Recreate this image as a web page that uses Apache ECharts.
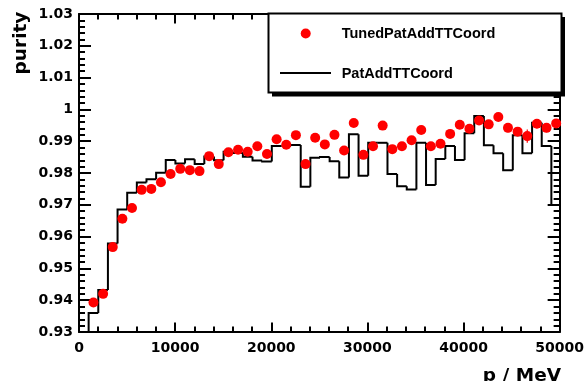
<!DOCTYPE html>
<html><head><meta charset="utf-8">
<script src="https://cdn.jsdelivr.net/npm/echarts@6/dist/echarts.min.js"></script>
<style>html,body{margin:0;padding:0;background:#fff}#c{width:587px;height:381px}</style>
</head><body><div id="c"></div>
<script>
// bin centres (p / MeV), bin width 1000
const binCenters = [1500,2500,3500,4500,5500,6500,7500,8500,9500,10500,
  11500,12500,13500,14500,15500,16500,17500,18500,19500,20500,
  21500,22500,23500,24500,25500,26500,27500,28500,29500,30500,
  31500,32500,33500,34500,35500,36500,37500,38500,39500,40500,
  41500,42500,43500,44500,45500,46500,47500,48500,49500];
const binWidth = 1000;
// TunedPatAddTTCoord (markers)
const tunedPurity = [0.9393,0.9420,0.9567,0.9656,0.9690,0.9747,0.9750,0.9771,0.9797,0.9813,
  0.9809,0.9806,0.9853,0.9828,0.9865,0.9873,0.9867,0.9884,0.9860,0.9906,
  0.9889,0.9919,0.9828,0.9911,0.9890,0.9920,0.9871,0.9957,0.9857,0.9884,
  0.9949,0.9875,0.9884,0.9903,0.9935,0.9884,0.9892,0.9923,0.9952,0.9939,
  0.9965,0.9953,0.9976,0.9942,0.9930,0.9916,0.9955,0.9942,0.9956];
const tunedError = [0.0012,0.0012,0.0011,0.0010,0.0010,0.0009,0.0009,0.0009,0.0009,0.0009,
  0.0009,0.0009,0.0009,0.0009,0.0009,0.0009,0.0010,0.0010,0.0010,0.0010,
  0.0010,0.0010,0.0011,0.0011,0.0011,0.0011,0.0011,0.0011,0.0012,0.0012,
  0.0012,0.0012,0.0012,0.0012,0.0012,0.0013,0.0013,0.0013,0.0013,0.0013,
  0.0013,0.0013,0.0013,0.0014,0.0014,0.0021,0.0014,0.0014,0.0014];
// PatAddTTCoord (histogram)
const patPurity = [0.9360,0.9432,0.9578,0.9685,0.9738,0.9770,0.9780,0.9801,0.9841,0.9830,
  0.9843,0.9828,0.9852,0.9840,0.9867,0.9863,0.9851,0.9839,0.9836,0.9885,
  0.9885,0.9888,0.9757,0.9848,0.9850,0.9837,0.9786,0.9922,0.9791,0.9895,
  0.9895,0.9797,0.9758,0.9748,0.9895,0.9762,0.9844,0.9885,0.9841,0.9925,
  0.9979,0.9887,0.9862,0.9809,0.9919,0.9862,0.9958,0.9885,0.9699];
const seriesNames = ['TunedPatAddTTCoord', 'PatAddTTCoord'];
const xTitle = 'p / MeV';
const yTitle = 'purity';
const xRange = [0, 50000, 10000];
const yRange = [0.93, 1.03, 0.01];

// histogram bins: [low edge, high edge, value, previous value]
const histData = binCenters.map((c, i) => [c - binWidth / 2, c + binWidth / 2, patPurity[i],
  i === 0 ? yRange[0] : patPurity[i - 1]]);
const pointData = binCenters.map((c, i) => [c, tunedPurity[i]]);
const errData = binCenters.map((c, i) => [c, tunedPurity[i], tunedError[i]]);

const gridRect = {left: 79, top: 14, width: 482, height: 318};
function tickStyle() { return {color: '#000', width: 2}; }
function labelStyle(extra) {
  return Object.assign({color: '#000', fontFamily: 'DejaVu Sans', fontWeight: 'bold', fontSize: 14}, extra);
}
// hidden axes that carry the data (grid 0)
function dataX() { return {type: 'value', gridIndex: 0, min: xRange[0], max: xRange[1], interval: xRange[2], show: false}; }
function dataY() { return {type: 'value', gridIndex: 0, min: yRange[0], max: yRange[1], interval: yRange[2], show: false}; }
// visible frame axes (grid 1, same rectangle)
function xAx(pos, labels) {
  return {type: 'value', gridIndex: 1, min: xRange[0], max: xRange[1], interval: xRange[2], position: pos,
    axisLine: {show: true, onZero: false, lineStyle: {color: '#000', width: 2}},
    axisTick: {show: true, inside: true, length: 9.5, lineStyle: tickStyle()},
    minorTick: {show: true, splitNumber: 5, length: 5.5, lineStyle: tickStyle()},
    splitLine: {show: false}, minorSplitLine: {show: false},
    axisLabel: labelStyle({show: labels, margin: 9, formatter: v => String(Math.round(v))})};
}
function yAx(pos, labels) {
  return {type: 'value', gridIndex: 1, min: yRange[0], max: yRange[1], interval: yRange[2], position: pos,
    axisLine: {show: true, onZero: false, lineStyle: {color: '#000', width: 2}},
    axisTick: {show: true, inside: true, length: 12, lineStyle: tickStyle()},
    minorTick: {show: true, splitNumber: 5, length: 6, lineStyle: tickStyle()},
    splitLine: {show: false}, minorSplitLine: {show: false},
    axisLabel: labelStyle({show: labels, margin: 6,
      formatter: v => String(parseFloat(Number(v).toFixed(3)))})};
}

const chart = echarts.init(document.getElementById('c'), null, {renderer: 'canvas'});
chart.setOption({
  animation: false,
  grid: [Object.assign({}, gridRect), Object.assign({}, gridRect)],
  xAxis: [dataX(), xAx('bottom', true), xAx('top', false)],
  yAxis: [dataY(), yAx('left', true), yAx('right', false)],
  series: [
    {name: seriesNames[1], type: 'custom', data: histData, z: 3, xAxisIndex: 0, yAxisIndex: 0,
      encode: {x: [0, 1], y: [2, 3]},
      renderItem: (params, api) => {
        const lo = api.value(0), hi = api.value(1), v = api.value(2), prev = api.value(3);
        const p0 = api.coord([lo, prev]), p1 = api.coord([lo, v]), p2 = api.coord([hi, v]);
        return {type: 'polyline', shape: {points: [p0, p1, p2]},
          style: {stroke: '#000', lineWidth: 2, fill: null}};
      }},
    {name: seriesNames[0] + ' err', type: 'custom', data: errData, z: 4, xAxisIndex: 0, yAxisIndex: 0,
      renderItem: (params, api) => {
        const a = api.coord([api.value(0), api.value(1) - api.value(2)]);
        const b = api.coord([api.value(0), api.value(1) + api.value(2)]);
        return {type: 'line', shape: {x1: a[0], y1: a[1], x2: b[0], y2: b[1]},
          style: {stroke: '#ff0000', lineWidth: 1.2}};
      }},
    {name: seriesNames[0], type: 'scatter', data: pointData, symbol: 'circle', symbolSize: 10, z: 5,
      xAxisIndex: 0, yAxisIndex: 0, itemStyle: {color: '#ff0000', opacity: 1}}
  ],
  graphic: [
    {type: 'rect', z: 100, shape: {x: 272, y: 17, width: 293, height: 79.5}, style: {fill: '#000'}},
    {type: 'rect', z: 101, shape: {x: 268.5, y: 13.5, width: 293, height: 79}, style: {fill: '#fff', stroke: '#000', lineWidth: 2}},
    {type: 'circle', z: 102, shape: {cx: 305.7, cy: 33.5, r: 5}, style: {fill: '#ff0000'}},
    {type: 'line', z: 102, shape: {x1: 280, y1: 73, x2: 331, y2: 73}, style: {stroke: '#000', lineWidth: 2}},
    {type: 'text', z: 102, x: 341.7, y: 34, style: {text: seriesNames[0], fill: '#000',
      font: 'bold 14.5px "Liberation Sans", Arial, sans-serif', textAlign: 'left', textVerticalAlign: 'middle'}},
    {type: 'text', z: 102, x: 341.7, y: 74, style: {text: seriesNames[1], fill: '#000',
      font: 'bold 14.5px "Liberation Sans", Arial, sans-serif', textAlign: 'left', textVerticalAlign: 'middle'}},
    {type: 'text', z: 102, x: 21.5, y: 43, rotation: Math.PI / 2, style: {text: yTitle, fill: '#000',
      font: 'bold 18.5px "DejaVu Sans", sans-serif', textAlign: 'center', textVerticalAlign: 'middle'}},
    {type: 'text', z: 102, x: 561, y: 376, style: {text: xTitle, fill: '#000',
      font: 'bold 18.5px "DejaVu Sans", sans-serif', textAlign: 'right', textVerticalAlign: 'middle'}}
  ]
});
</script></body></html>
